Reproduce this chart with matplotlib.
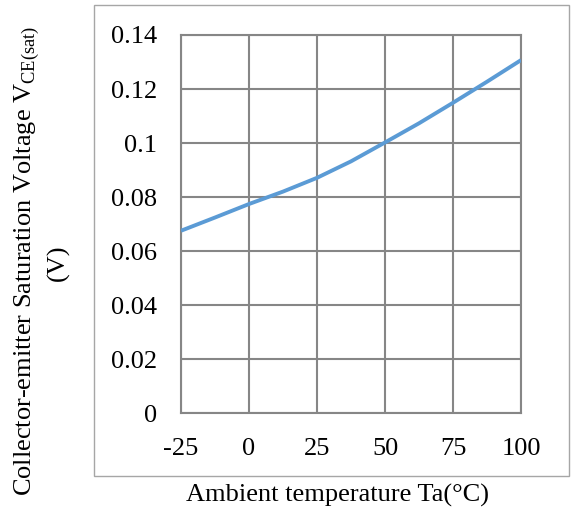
import numpy as np
import matplotlib
matplotlib.use('agg')
import matplotlib.pyplot as plt
import matplotlib.ticker as ticker
from matplotlib.patches import Rectangle

plt.rcParams['font.family'] = 'Liberation Serif'
plt.rcParams['mathtext.fontset'] = 'custom'
plt.rcParams['mathtext.rm'] = 'Liberation Serif'
plt.rcParams['axes.unicode_minus'] = False

# VCE(sat) vs ambient temperature
temp = [-25, -12.5, 0, 12.5, 25, 37.5, 50, 62.5, 75, 87.5, 100]
vce_sat = [0.0675, 0.0724, 0.0774, 0.0820, 0.0871, 0.0932, 0.1002, 0.1073, 0.1149, 0.1227, 0.1307]
x_ticks = [-25, 0, 25, 50, 75, 100]
y_ticks = [0, 0.02, 0.04, 0.06, 0.08, 0.1, 0.12, 0.14]
y_ticklabels = ['0', '0.02', '0.04', '0.06', '0.08', '0.1', '0.12', '0.14']

W, H = 573, 514
fig = plt.figure(figsize=[W / 100, H / 100], dpi=100)
ax = fig.add_axes([181 / W, 1 - 413 / H, 340 / W, 378 / H])

# chart frame
fig.patches.append(Rectangle((94 / W, 1 - 476 / H), 475 / W, 471 / H, transform=fig.transFigure,
                             fill=False, edgecolor='#a6a6a6', linewidth=1.0))

ax.plot(temp, vce_sat, color='#5b9bd5', linewidth=2.8, solid_capstyle='butt', zorder=3)

ax.set_xlim(-25, 100)
ax.set_ylim(0, 0.14)
ax.set_xticks(x_ticks)
ax.set_yticks(y_ticks)
ax.set_yticklabels(y_ticklabels)
ax.grid(True, color='#868686', linewidth=1.5)
for s in ax.spines.values():
    s.set_color('#868686')
    s.set_linewidth(1.5)
ax.tick_params(length=0, labelsize=19)
ax.tick_params(axis='y', pad=17)
ax.tick_params(axis='x', pad=18)

fig.text(338 / W, 1 - 495 / H, 'Ambient temperature Ta(°C)', fontsize=19, ha='center', va='center')
fig.text(27 / W, 1 - 261 / H, r'Collector-emitter Saturation Voltage V$_{\mathregular{CE(sat)}}$',
         fontsize=19, rotation=90, ha='center', va='center')
fig.text(58 / W, 1 - 263 / H, '(V)', fontsize=19, rotation=90, ha='center', va='center')

plt.savefig('out.png', dpi=100)
plt.close()
